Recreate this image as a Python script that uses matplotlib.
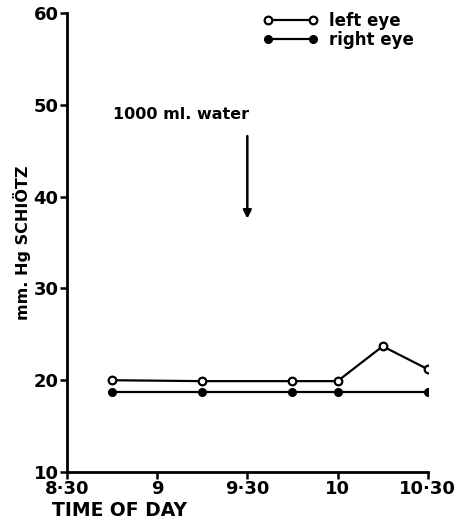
import matplotlib
matplotlib.use("Agg")
import matplotlib.pyplot as plt

# Data (time of day in hours)
times_left = [8.75, 9.25, 9.75, 10.0, 10.25, 10.5]
left_eye = [20.0, 19.9, 19.9, 19.9, 23.7, 21.2]
times_right = [8.75, 9.25, 9.75, 10.0, 10.5]
right_eye = [18.7, 18.7, 18.7, 18.7, 18.7]
xtick_vals = [8.5, 9.0, 9.5, 10.0, 10.5]
xtick_labels = ["8·30", "9", "9·30", "10", "10·30"]
ytick_vals = [10, 20, 30, 40, 50, 60]
water_time = 9.5

plt.rcParams['font.family'] = ['DejaVu Sans']
plt.rcParams['font.weight'] = 'bold'

fig = plt.figure(figsize=(4.58, 5.23), dpi=100)
ax = fig.add_axes([0.146, 0.0975, 0.788, 0.8775])

ax.plot(times_left, left_eye, color='black', lw=1.6, marker='o', ms=5.5,
        mfc='white', mec='black', mew=1.6, label='left eye')
ax.plot(times_right, right_eye, color='black', lw=1.6, marker='o', ms=5.5,
        mfc='black', mec='black', label='right eye')

ax.set_xlim(8.5, 10.5)
ax.set_ylim(10, 60)
ax.set_xticks(xtick_vals)
ax.set_xticklabels(xtick_labels)
ax.set_yticks(ytick_vals)
ax.tick_params(axis='both', direction='out', length=5, width=1.8,
               labelsize=13, pad=1)
for s in ['top', 'right']:
    ax.spines[s].set_visible(False)
for s in ['left', 'bottom']:
    ax.spines[s].set_linewidth(2)

ax.set_ylabel('mm. Hg SCHIÖTZ', fontsize=11.5, fontweight='bold', labelpad=2)
fig.text(0.113, 0.006, 'TIME OF DAY', fontsize=13.5, fontweight='bold',
         ha='left', va='bottom')

ax.annotate('', xy=(water_time, 37.3), xytext=(water_time, 46.9),
            arrowprops=dict(arrowstyle='-|>', color='black', lw=1.8,
                            mutation_scale=12))
ax.text(water_time + 0.01, 48.9, '1000 ml. water', fontsize=11.5,
        fontweight='bold', ha='right', va='center')

leg = ax.legend(loc='upper right', bbox_to_anchor=(0.99, 1.025), frameon=False,
                fontsize=12, numpoints=2, handlelength=3.3,
                handletextpad=0.7, labelspacing=0.1, borderaxespad=0.2)

fig.savefig('out.png', dpi=100)
